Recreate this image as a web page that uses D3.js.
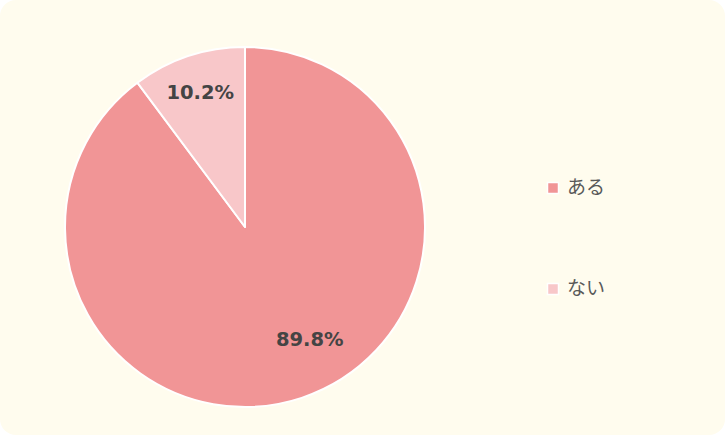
<!DOCTYPE html>
<html>
<head>
<meta charset="utf-8">
<script src="https://cdn.jsdelivr.net/npm/d3@7"></script>
<style>
  html, body { margin: 0; padding: 0; background: #ffffff; }
  svg { display: block; }
</style>
</head>
<body>
<svg id="chart"></svg>
<script>
const categories = ["ある", "ない"];
const values = [89.8, 10.2];
const labels = ["89.8%", "10.2%"];

const width = 725;
const height = 435;
const cx = 245;
const cy = 227;
const radius = 180;

const color = d3.scaleOrdinal().domain(categories).range(["#f19596", "#f8c7c9"]);

// where each label sits: fraction along its arc, fraction of the radius
const labelPlace = [
  { t: 0.464, r: 0.72 },
  { t: 0.5, r: 0.79 }
];

const svg = d3.select("#chart").attr("width", width).attr("height", height);

svg.append("rect")
  .attr("x", 0)
  .attr("y", 0)
  .attr("width", width)
  .attr("height", height)
  .attr("rx", 16)
  .attr("fill", "#fffcee");

const pie = d3.pie().sort(null).value((d) => d);
const arcs = pie(values);

const arc = d3.arc().innerRadius(0).outerRadius(radius);

const g = svg.append("g").attr("transform", `translate(${cx},${cy})`);

g.selectAll("path")
  .data(arcs)
  .enter()
  .append("path")
  .attr("d", arc)
  .attr("fill", (d, i) => color(categories[i]))
  .attr("stroke", "#ffffff")
  .attr("stroke-width", 2)
  .attr("stroke-linejoin", "round");

g.selectAll(".label")
  .data(arcs)
  .enter()
  .append("text")
  .attr("class", "label")
  .attr("transform", (d, i) => {
    const p = labelPlace[i];
    const a = d.startAngle + (d.endAngle - d.startAngle) * p.t;
    const r = radius * p.r;
    return `translate(${Math.sin(a) * r},${-Math.cos(a) * r})`;
  })
  .attr("text-anchor", "middle")
  .attr("dominant-baseline", "central")
  .attr("font-family", "DejaVu Sans")
  .attr("font-weight", "bold")
  .attr("font-size", "19.5px")
  .attr("fill", "#444444")
  .text((d, i) => labels[i]);

// legend
const legendY = d3.scalePoint().domain(categories).range([188, 289]);

const legend = svg.selectAll(".legend-item")
  .data(categories)
  .enter()
  .append("g")
  .attr("class", "legend-item")
  .attr("transform", (d) => `translate(548,${legendY(d)})`);

legend.append("rect")
  .attr("x", -0.5)
  .attr("y", -5.5)
  .attr("width", 11)
  .attr("height", 11)
  .attr("fill", (d) => color(d))
  .attr("stroke", "#ffffff")
  .attr("stroke-width", 1.5);

legend.append("text")
  .attr("x", 19)
  .attr("y", -3)
  .attr("dominant-baseline", "central")
  .attr("font-family", "Noto Sans CJK JP")
  .attr("font-size", "19px")
  .attr("fill", "#595959")
  .text((d) => d);
</script>
</body>
</html>
